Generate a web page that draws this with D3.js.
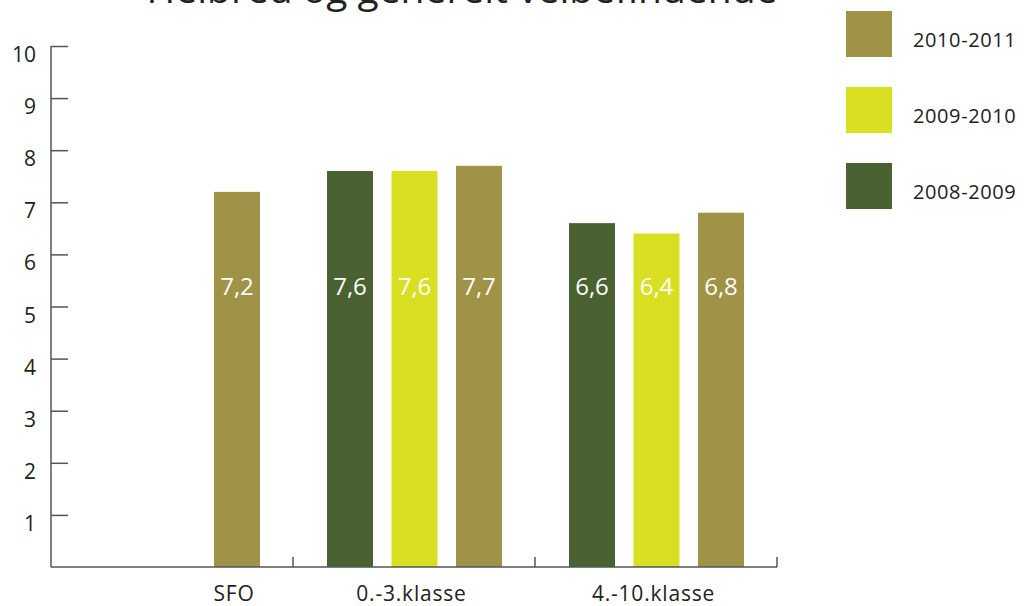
<!DOCTYPE html>
<html><head><meta charset="utf-8">
<script src="https://cdn.jsdelivr.net/npm/d3@7"></script>
<style>body{margin:0;background:#fff}svg{display:block}</style>
</head><body>
<svg id="c" width="1024" height="606"></svg>
<script>
const title = "Helbred og generelt velbefindende";
const categories = ["SFO", "0.-3.klasse", "4.-10.klasse"];
const seriesNames = ["2008-2009", "2009-2010", "2010-2011"];
const legendOrder = ["2010-2011", "2009-2010", "2008-2009"];
const colors = ["#4A6131", "#D8E021", "#A09348"];
const values2008 = [null, 7.6, 6.6];
const values2009 = [null, 7.6, 6.4];
const values2010 = [7.2, 7.7, 6.8];
const yTicks = [1, 2, 3, 4, 5, 6, 7, 8, 9, 10];

const seriesValues = [values2008, values2009, values2010];
const data = [];
categories.forEach((c, ci) => seriesNames.forEach((s, si) => {
  const v = seriesValues[si][ci];
  if (v != null) data.push({cat: c, series: s, value: v});
}));

const svg = d3.select("#c");
const font = "'Open Sans', sans-serif";
const plotLeft = 51, plotRight = 777, plotTop = 46, plotBottom = 567;

const y = d3.scaleLinear().domain([0, 10]).range([plotBottom, plotTop]);
const x0 = d3.scaleBand().domain(categories).range([plotLeft, plotRight]).padding(0);
const x1 = d3.scaleBand().domain(seriesNames).range([34, 209]).paddingInner(0.287).paddingOuter(0);
const color = d3.scaleOrdinal().domain(seriesNames).range(colors);

// Title (cut off at the top edge, as in the original)
svg.append("text").attr("x", 462).attr("y", 3).attr("text-anchor", "middle")
  .attr("font-family", font).attr("font-size", 39).attr("fill", "#222").text(title);

// Bars
svg.append("g").selectAll("rect").data(data).join("rect")
  .attr("x", d => x0(d.cat) + x1(d.series))
  .attr("y", d => y(d.value))
  .attr("width", x1.bandwidth())
  .attr("height", d => y(0) - y(d.value))
  .attr("fill", d => color(d.series));

// Value labels
svg.append("g").selectAll("text").data(data).join("text")
  .attr("x", d => x0(d.cat) + x1(d.series) + x1.bandwidth() / 2)
  .attr("y", 295)
  .attr("text-anchor", "middle")
  .attr("font-family", font).attr("font-size", 24).attr("fill", "#fff")
  .text(d => d3.format(".1f")(d.value).replace(".", ","));

// Y axis
const yAxis = d3.axisRight(y).tickValues(yTicks).tickSize(17).tickFormat("");
const gy = svg.append("g").attr("transform", `translate(${plotLeft},0)`).call(yAxis);
gy.select(".domain").remove();
gy.selectAll(".tick line").attr("stroke", "#555").attr("stroke-width", 1.5);
svg.append("line").attr("x1", plotLeft).attr("x2", plotLeft).attr("y1", y(10)).attr("y2", y(0))
  .attr("stroke", "#555").attr("stroke-width", 1.5);
svg.append("g").selectAll("text").data(yTicks).join("text")
  .attr("x", 36).attr("y", d => y(d) + 16).attr("text-anchor", "end")
  .attr("font-family", font).attr("font-size", 21).attr("fill", "#222").text(d => d);

// X axis
svg.append("line").attr("x1", plotLeft).attr("x2", plotRight).attr("y1", plotBottom).attr("y2", plotBottom)
  .attr("stroke", "#555").attr("stroke-width", 1.5);
svg.append("g").selectAll("line").data(categories).join("line")
  .attr("x1", d => x0(d) + x0.bandwidth()).attr("x2", d => x0(d) + x0.bandwidth())
  .attr("y1", plotBottom).attr("y2", plotBottom - 10)
  .attr("stroke", "#555").attr("stroke-width", 1.5);
svg.append("g").selectAll("text").data(categories).join("text")
  .attr("x", c => {
    const present = data.filter(d => d.cat === c);
    const xs = present.map(d => x0(c) + x1(d.series));
    return (d3.min(xs) + d3.max(xs) + x1.bandwidth()) / 2 - 3;
  })
  .attr("y", 601).attr("text-anchor", "middle")
  .attr("font-family", font).attr("font-size", 21).attr("letter-spacing", 0.8)
  .attr("fill", "#222").text(d => d);

// Legend
const lg = svg.append("g").selectAll("g").data(legendOrder).join("g")
  .attr("transform", (d, i) => `translate(846,${11 + i * 76})`);
lg.append("rect").attr("width", 46).attr("height", 46).attr("fill", d => color(d));
lg.append("text").attr("x", 67).attr("y", 36)
  .attr("font-family", font).attr("font-size", 20).attr("letter-spacing", 0.6)
  .attr("fill", "#222").text(d => d);
</script>
</body></html>
